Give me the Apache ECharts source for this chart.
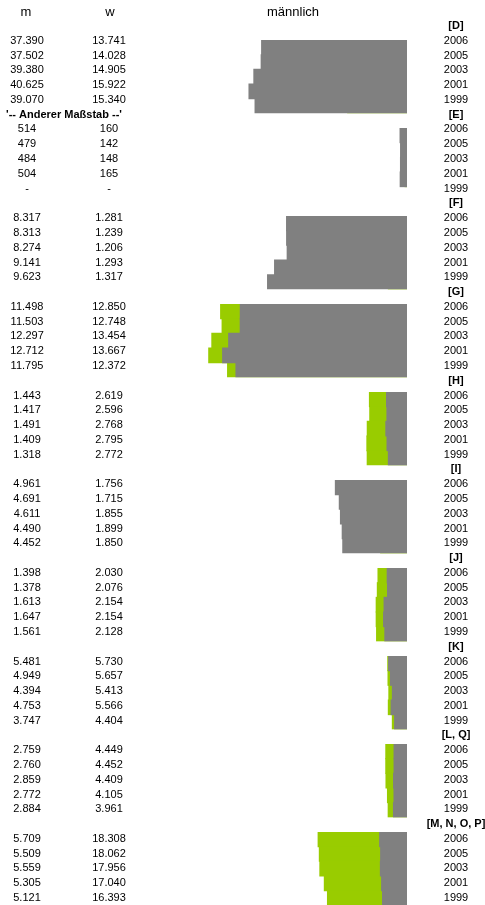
<!DOCTYPE html>
<html>
<head>
<meta charset="utf-8">
<script src="https://cdn.jsdelivr.net/npm/echarts@6/dist/echarts.min.js"></script>
<style>
  html, body { margin: 0; padding: 0; background: #fff; }
  #chart { width: 485px; height: 905px; }
</style>
</head>
<body>
<div id="chart"></div>
<script>
const groups = ['[D]', '[E]', '[F]', '[G]', '[H]', '[I]', '[J]', '[K]', '[L, Q]', '[M, N, O, P]']
const years = ['2006', '2005', '2003', '2001', '1999']

// m = männlich (grau), w = weiblich (grün)
const mD = [37390, 37502, 39380, 40625, 39070]
const wD = [13741, 14028, 14905, 15922, 15340]
const mE = [514, 479, 484, 504, null]
const wE = [160, 142, 148, 165, null]
const mF = [8317, 8313, 8274, 9141, 9623]
const wF = [1281, 1239, 1206, 1293, 1317]
const mG = [11498, 11503, 12297, 12712, 11795]
const wG = [12850, 12748, 13454, 13667, 12372]
const mH = [1443, 1417, 1491, 1409, 1318]
const wH = [2619, 2596, 2768, 2795, 2772]
const mI = [4961, 4691, 4611, 4490, 4452]
const wI = [1756, 1715, 1855, 1899, 1850]
const mJ = [1398, 1378, 1613, 1647, 1561]
const wJ = [2030, 2076, 2154, 2154, 2128]
const mK = [5481, 4949, 4394, 4753, 3747]
const wK = [5730, 5657, 5413, 5566, 4404]
const mL = [2759, 2760, 2859, 2772, 2884]
const wL = [4449, 4452, 4409, 4105, 3961]
const mM = [5709, 5509, 5559, 5305, 5121]
const wM = [18308, 18062, 17956, 17040, 16393]

const maleValues = [mD, mE, mF, mG, mH, mI, mJ, mK, mL, mM]
const femaleValues = [wD, wE, wF, wG, wH, wI, wJ, wK, wL, wM]
// jede Gruppe hat ihren eigenen Maßstab (Achsenmaximum)
const scaleMax = [53300, 14300, 14300, 14300, 14300, 14300, 14300, 60300, 42600, 42600]
const notes = ['', "'-- Anderer Maßstab --'", '', '', '', '', '', '', '', '']

const FONT = 'Liberation Sans, Arial, sans-serif'
const GRAY = '#808080'
const GREEN = '#99cc00'

const plotLeft = 199
const plotRight = 78
// Tabelle (Texte) und Balken haben leicht unterschiedliche Zeilenraster
const labelTop0 = 18.6
const labelRowH = 14.78
const barTop0 = 40
const barPitch = 88
const barRowH = 14.667

function fmt(v) {
  if (v === null || v === undefined) return '-'
  return String(v).replace(/\B(?=(\d{3})+(?!\d))/g, '.')
}

const grid = []
const xAxis = []
const yAxis = []
const series = []
const n = groups.length

// Textspalten
groups.forEach((g, i) => {
  const cats = [g].concat(years)
  grid.push({
    left: plotLeft,
    right: plotRight,
    top: labelTop0 + i * 6 * labelRowH,
    height: 6 * labelRowH,
    outerBoundsMode: 'none'
  })
  xAxis.push({ gridIndex: i, type: 'value', min: 0, max: 1, show: false })
  const axisBase = {
    gridIndex: i,
    type: 'category',
    inverse: true,
    data: cats,
    axisLine: { show: false },
    axisTick: { show: false },
    splitLine: { show: false }
  }
  const labelBase = {
    interval: 0,
    align: 'center',
    margin: 0,
    color: '#000',
    fontFamily: FONT,
    fontSize: 11
  }
  yAxis.push(Object.assign({}, axisBase, {
    position: 'right',
    axisLabel: Object.assign({}, labelBase, {
      margin: 49,
      formatter: (v, idx) => (idx === 0 ? '{b|' + v + '}' : v),
      rich: { b: { fontWeight: 'bold', fontFamily: FONT, fontSize: 11, color: '#000' } }
    })
  }))
  yAxis.push(Object.assign({}, axisBase, {
    position: 'left',
    offset: plotLeft - 27,
    axisLabel: Object.assign({}, labelBase, {
      formatter: (v, idx) => (idx === 0 ? '' : fmt(maleValues[i][idx - 1]))
    })
  }))
  yAxis.push(Object.assign({}, axisBase, {
    position: 'left',
    offset: plotLeft - 109,
    axisLabel: Object.assign({}, labelBase, {
      formatter: (v, idx) => (idx === 0 ? '' : fmt(femaleValues[i][idx - 1]))
    })
  }))
  yAxis.push(Object.assign({}, axisBase, {
    position: 'left',
    offset: plotLeft - 64,
    axisLabel: Object.assign({}, labelBase, {
      fontSize: 11,
      fontWeight: 'bold',
      formatter: (v, idx) => (idx === 0 ? notes[i] : '')
    })
  }))
})

// Balken: w (grün) hinten, m (grau) davor
groups.forEach((g, i) => {
  const gi = n + i
  grid.push({
    left: plotLeft,
    right: plotRight,
    top: barTop0 + i * barPitch,
    height: 5 * barRowH,
    outerBoundsMode: 'none'
  })
  xAxis.push({
    gridIndex: gi,
    type: 'value',
    inverse: true,
    min: 0,
    max: scaleMax[i],
    show: false
  })
  const yi = yAxis.length
  yAxis.push({
    gridIndex: gi,
    type: 'category',
    inverse: true,
    data: years,
    show: false
  })
  series.push({
    name: 'weiblich',
    type: 'bar',
    z: 2,
    xAxisIndex: gi,
    yAxisIndex: yi,
    barGap: '-100%',
    barWidth: barRowH + 1,
    itemStyle: { color: GREEN },
    data: femaleValues[i]
  })
  series.push({
    name: 'männlich',
    type: 'bar',
    z: 3,
    xAxisIndex: gi,
    yAxisIndex: yi,
    barGap: '-100%',
    barWidth: barRowH + 1,
    itemStyle: { color: GRAY },
    data: maleValues[i]
  })
})

const chart = echarts.init(document.getElementById('chart'))
chart.setOption({
  animation: false,
  backgroundColor: '#fff',
  graphic: [
    { type: 'text', x: 26, y: 12, style: { text: 'm', align: 'center', verticalAlign: 'middle', font: '13px ' + FONT, fill: '#000' } },
    { type: 'text', x: 110, y: 12, style: { text: 'w', align: 'center', verticalAlign: 'middle', font: '13px ' + FONT, fill: '#000' } },
    { type: 'text', x: 293, y: 12, style: { text: 'männlich', align: 'center', verticalAlign: 'middle', font: '13px ' + FONT, fill: '#000' } }
  ],
  grid,
  xAxis,
  yAxis,
  series
})
</script>
</body>
</html>
